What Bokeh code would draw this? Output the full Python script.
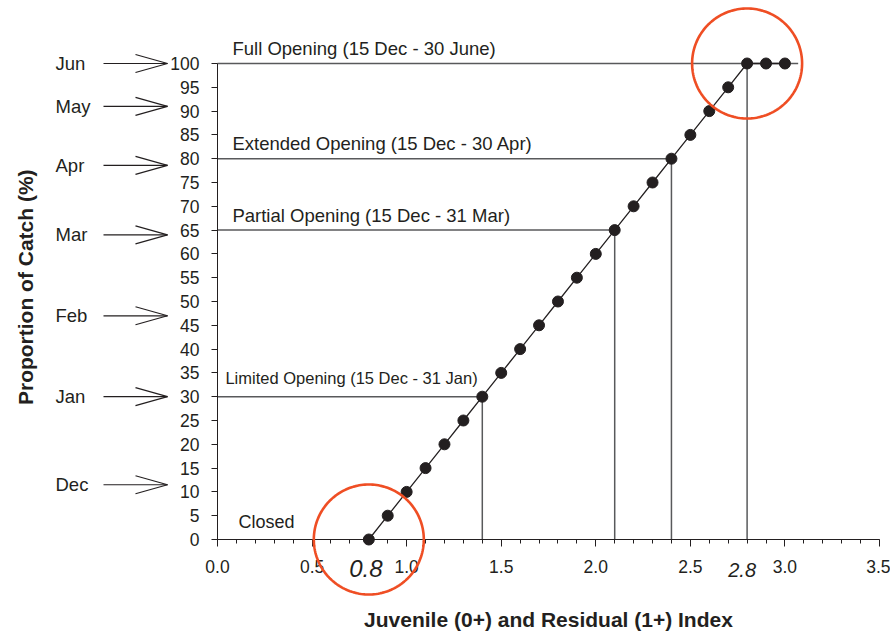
import numpy as np
from bokeh.plotting import figure
from bokeh.models import (Range1d, SingleIntervalTicker, PrintfTickFormatter, Label,
                          LabelSet, Arrow, ColumnDataSource, PolyAnnotation)
from bokeh.core.properties import value
from bokeh.embed import file_html
from bokeh.resources import INLINE

# ---------------- data ----------------
INDEX = [0.8, 0.9, 1.0, 1.1, 1.2, 1.3, 1.4, 1.5, 1.6, 1.7, 1.8, 1.9, 2.0,
         2.1, 2.2, 2.3, 2.4, 2.5, 2.6, 2.7, 2.8, 2.9, 3.0]
CATCH = [0, 5, 10, 15, 20, 25, 30, 35, 40, 45, 50, 55, 60,
         65, 70, 75, 80, 85, 90, 95, 100, 100, 100]

OPEN_X = [1.4, 2.1, 2.4, 2.8]
OPEN_Y = [30, 65, 80, 100]
OPEN_LINE_END = [1.4, 2.1, 2.4, 3.07]
OPEN_LABELS = ["Limited Opening (15 Dec - 31 Jan)",
               "Partial Opening (15 Dec - 31 Mar)",
               "Extended Opening (15 Dec - 30 Apr)",
               "Full Opening (15 Dec - 30 June)"]

MONTHS = ["Jun", "May", "Apr", "Mar", "Feb", "Jan", "Dec"]
MONTH_CATCH = [100, 91, 78.6, 64, 47, 30, 11.5]

HIGHLIGHT_X = [0.8, 2.8]
HIGHLIGHT_Y = [0, 100]
HIGHLIGHT_TEXT = ["0.8", "2.8"]

# ---------------- layout constants ----------------
TXT = "#231f20"
RED = "#ef4e24"
FONT = "Liberation Sans"
W, H = 890, 634
X0_PX, X1_PX = 217, 879      # pixel positions of x = 0 and x = 3.5
Y0_PX, Y100_PX = 539, 63     # pixel positions of y = 0 and y = 100
PX_X = (X1_PX - X0_PX) / 3.5
PX_Y = (Y0_PX - Y100_PX) / 100.0

x_start = -X0_PX / PX_X
x_end = (W - X0_PX) / PX_X
y_start = (Y0_PX - H) / PX_Y
y_end = Y0_PX / PX_Y

p = figure(width=W, height=H, title=None,
           x_range=Range1d(x_start, x_end), y_range=Range1d(y_start, y_end),
           output_backend="svg", toolbar_location=None,
           min_border=0)
p.grid.visible = False
p.outline_line_color = None
p.background_fill_color = "white"

# x axis
xa = p.xaxis[0]
xa.fixed_location = 0
xa.bounds = (0, 3.5)
xa.ticker = SingleIntervalTicker(interval=0.5, num_minor_ticks=5)
xa.formatter = PrintfTickFormatter(format="%.1f")
xa.major_tick_in = 0
xa.major_tick_out = 7
xa.minor_tick_in = 0
xa.minor_tick_out = 4
xa.axis_line_color = TXT
xa.major_tick_line_color = TXT
xa.minor_tick_line_color = TXT
xa.major_label_text_font = FONT
xa.major_label_text_font_size = "17.5px"
xa.major_label_text_color = TXT
xa.major_label_standoff = 13
xa.axis_label = "Juvenile (0+) and Residual (1+) Index"
xa.axis_label_text_font = FONT
xa.axis_label_text_font_size = "21px"
xa.axis_label_text_font_style = "bold"
xa.axis_label_text_color = TXT
xa.axis_label_standoff = 32

# y axis
ya = p.yaxis[0]
ya.fixed_location = 0
ya.ticker = SingleIntervalTicker(interval=5, num_minor_ticks=0)
ya.bounds = (0, 100)
ya.major_tick_in = 0
ya.major_tick_out = 6
ya.minor_tick_in = 0
ya.minor_tick_out = 0
ya.axis_line_color = TXT
ya.major_tick_line_color = TXT
ya.major_label_text_font = FONT
ya.major_label_text_font_size = "17.5px"
ya.major_label_text_color = TXT
ya.major_label_standoff = 12

# reference lines
p.segment(x0=[0] * len(OPEN_Y), y0=OPEN_Y, x1=OPEN_LINE_END, y1=OPEN_Y,
          line_color="#58595b", line_width=1.5)
p.segment(x0=OPEN_X, y0=[0] * len(OPEN_X), x1=OPEN_X, y1=OPEN_Y,
          line_color="#58595b", line_width=1.5)

# data
p.line(INDEX, CATCH, line_color=TXT, line_width=1.3)
p.scatter(INDEX, CATCH, size=11, fill_color=TXT, line_color=TXT)

# opening labels
lab_x = [0.042, 0.079, 0.079, 0.079]
lab_y = [34.0, 68.1, 83.1, 103.2]
lab_sz = ["16.5px", "18.5px", "18.5px", "18.5px"]
for t, x, y, s in zip(OPEN_LABELS, lab_x, lab_y, lab_sz):
    p.add_layout(Label(x=x, y=y, text=t, text_font=FONT, text_font_size=s,
                       text_color=TXT, text_align="left", text_baseline="middle"))
p.add_layout(Label(x=0.111, y=3.63, text="Closed", text_font=FONT,
                   text_font_size="18px", text_color=TXT,
                   text_align="left", text_baseline="middle"))

# month labels and arrows
x_text = (55 - X0_PX) / PX_X
x_shaft = (103 - X0_PX) / PX_X
x_tip = (167 - X0_PX) / PX_X
x_barb = (135 - X0_PX) / PX_X
dy = 9 / PX_Y
msrc = ColumnDataSource(dict(x=[x_text] * len(MONTHS), y=MONTH_CATCH, t=MONTHS))
p.add_layout(LabelSet(x="x", y="y", text="t", source=msrc,
                      text_font=value(FONT), text_font_size=value("18.5px"),
                      text_color=TXT, text_align="left", text_baseline="middle"))
ax0, ay0, ax1, ay1 = [], [], [], []
for m in MONTH_CATCH:
    ax0 += [x_shaft, x_barb, x_barb]
    ay0 += [m, m + dy, m - dy]
    ax1 += [x_tip, x_tip, x_tip]
    ay1 += [m, m, m]
asrc = ColumnDataSource(dict(x0=ax0, y0=ay0, x1=ax1, y1=ay1))
p.add_layout(Arrow(x_start="x0", y_start="y0", x_end="x1", y_end="y1",
                   source=asrc, start=None, end=None,
                   line_color=TXT, line_width=1.2))

# y axis title
p.add_layout(Label(x=(25 - X0_PX) / PX_X, y=53.0, text="Proportion of Catch (%)",
                   angle=np.pi / 2, text_font=FONT, text_font_size="21px",
                   text_font_style="bold", text_color=TXT,
                   text_align="center", text_baseline="middle"))

# highlight circles and italic values
t = np.linspace(0, 2 * np.pi, 181)
for hx, hy, htxt, fs, off, yo in zip(HIGHLIGHT_X, HIGHLIGHT_Y, HIGHLIGHT_TEXT,
                                     ["24px", "20px"], [-3, -5], [-29, -30]):
    r = 55
    p.add_layout(PolyAnnotation(xs=list(hx + r / PX_X * np.cos(t)),
                                ys=list(hy + r / PX_Y * np.sin(t)),
                                fill_alpha=0, line_color=RED, line_alpha=1.0,
                                line_width=2.6))
    p.add_layout(Label(x=hx, y=0, x_offset=off, y_offset=yo, text=htxt,
                       text_font=FONT, text_font_size=fs,
                       text_font_style="italic", text_color=TXT,
                       text_align="center", text_baseline="middle"))

open("out.html", "w").write(file_html(p, INLINE))
